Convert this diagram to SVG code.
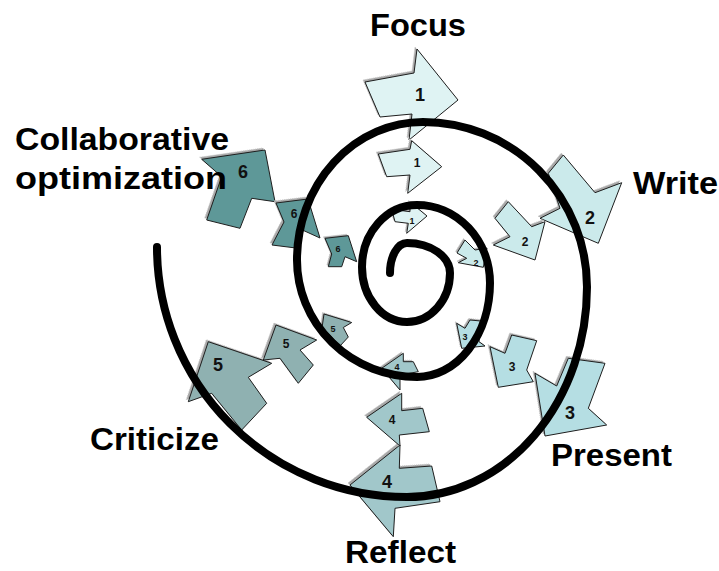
<svg xmlns="http://www.w3.org/2000/svg" width="719" height="571" viewBox="0 0 719 571">
<style>
.sh{fill:#a8a8a8;stroke:#c8c8c8;stroke-width:1;stroke-dasharray:1 1}
.ar{stroke:#1e1e1e;stroke-width:1;stroke-linejoin:miter}
.c1{fill:#dff3f3}.c2{fill:#cbeaeb}.c3{fill:#b5dee3}.c4{fill:#a1c7ca}.c5{fill:#8fb1b1}.c6{fill:#5e9898}
.n{font-family:"Liberation Sans",Arial,sans-serif;font-weight:bold;fill:#111;text-anchor:middle}
.L{font-size:18px}.M{font-size:12px}.S{font-size:9px}
.t{font-family:"Liberation Sans",Arial,sans-serif;font-weight:bold;font-size:31px;fill:#000}
.sp{fill:none;stroke:#000;stroke-width:8;stroke-linecap:round}
</style>
<g id="arrows">
<g id="a1L"><polygon class="sh" transform="translate(-2,-2)" points="458,100 417,49 414,73 365,82 380,117 412,114 409,140"/><polygon class="ar c1" points="458,100 417,49 414,73 365,82 380,117 412,114 409,140"/></g>
<g id="a1M"><polygon class="sh" transform="translate(-2,-2)" points="441.7,166.7 411.7,140.7 410,149.3 378.3,154 386.7,176.7 410,175 407.7,193.3"/><polygon class="ar c1" points="441.7,166.7 411.7,140.7 410,149.3 378.3,154 386.7,176.7 410,175 407.7,193.3"/></g>
<g id="a1S"><polygon class="sh" transform="translate(-1.5,-1.5)" points="427,216 410,202 410,211.7 391.7,209.3 395,221.7 408.3,223.3 406.7,233.3"/><polygon class="ar c1" points="427,216 410,202 410,211.7 391.7,209.3 395,221.7 408.3,223.3 406.7,233.3"/></g>
<g id="a2L"><polygon class="sh" transform="translate(-2,-2)" points="598.3,243.3 621.7,182.7 595,192.7 563.3,155 548.3,173.3 560,208.3 540,218.3"/><polygon class="ar c2" points="598.3,243.3 621.7,182.7 595,192.7 563.3,155 548.3,173.3 560,208.3 540,218.3"/></g>
<g id="a2M"><polygon class="sh" transform="translate(-2,-2)" points="535,260 545,221.7 531.7,226.7 508.3,201.7 495,218.3 510,236.7 493.3,245"/><polygon class="ar c2" points="535,260 545,221.7 531.7,226.7 508.3,201.7 495,218.3 510,236.7 493.3,245"/></g>
<g id="a2S"><polygon class="sh" transform="translate(-1.5,-1.5)" points="483.3,267.3 487,248 475,250 465,240 457,253 466.7,258.3 458.3,262.7"/><polygon class="ar c2" points="483.3,267.3 487,248 475,250 465,240 457,253 466.7,258.3 458.3,262.7"/></g>
<g id="a3L"><polygon class="sh" transform="translate(-2,-2)" points="535,373.3 556.7,386 568.3,358.3 605,363.3 588.3,408.3 606.7,425 545,436"/><polygon class="ar c3" points="535,373.3 556.7,386 568.3,358.3 605,363.3 588.3,408.3 606.7,425 545,436"/></g>
<g id="a3M"><polygon class="sh" transform="translate(-2,-2)" points="490,346.7 505,353.3 511.7,335 536.7,340.7 526.7,370 533.3,381.7 498.3,387.3"/><polygon class="ar c3" points="490,346.7 505,353.3 511.7,335 536.7,340.7 526.7,370 533.3,381.7 498.3,387.3"/></g>
<g id="a3S"><polygon class="sh" transform="translate(-1.5,-1.5)" points="456.7,323.3 465,328.3 470,320 481,321 479,341.7 485,346 461.7,348.3"/><polygon class="ar c3" points="456.7,323.3 465,328.3 470,320 481,321 479,341.7 485,346 461.7,348.3"/></g>
<g id="a4L"><polygon class="sh" transform="translate(-2,-2)" points="350,485 400,445 399.3,468.3 431.7,466 440,501.7 395,508.3 393.3,536.7"/><polygon class="ar c4" points="350,485 400,445 399.3,468.3 431.7,466 440,501.7 395,508.3 393.3,536.7"/></g>
<g id="a4M"><polygon class="sh" transform="translate(-2,-2)" points="366.7,417.3 401.7,393.3 401.7,410.7 422.7,408.3 429.3,431.7 399.3,435 400,446"/><polygon class="ar c4" points="366.7,417.3 401.7,393.3 401.7,410.7 422.7,408.3 429.3,431.7 399.3,435 400,446"/></g>
<g id="a4S"><polygon class="sh" transform="translate(-1.5,-1.5)" points="381.7,368.3 403.3,353.3 403.3,361.7 413.3,361.7 418.3,371.7 400,375 400,390"/><polygon class="ar c4" points="381.7,368.3 403.3,353.3 403.3,361.7 413.3,361.7 418.3,371.7 400,375 400,390"/></g>
<g id="a5L"><polygon class="sh" transform="translate(-2,-2)" points="188.3,401.7 208.3,341.7 271.7,363.3 248.3,377.3 266.7,403.3 241.7,430 211.7,393.3"/><polygon class="ar c5" points="188.3,401.7 208.3,341.7 271.7,363.3 248.3,377.3 266.7,403.3 241.7,430 211.7,393.3"/></g>
<g id="a5M"><polygon class="sh" transform="translate(-2,-2)" points="263.3,360 276,325 316.7,340 300,350 313.3,365 298.3,383.3 280,358.3"/><polygon class="ar c5" points="263.3,360 276,325 316.7,340 300,350 313.3,365 298.3,383.3 280,358.3"/></g>
<g id="a5S"><polygon class="sh" transform="translate(-1.5,-1.5)" points="321.7,330 324,314 351.7,322.5 343.3,327.5 348.3,337 340,346 328,333"/><polygon class="ar c5" points="321.7,330 324,314 351.7,322.5 343.3,327.5 348.3,337 340,346 328,333"/></g>
<g id="a6L"><polygon class="sh" transform="translate(-2,-2)" points="201.7,159.3 265,150 275,201.7 251.7,198.3 240,228.3 206.7,220 221.7,176.7"/><polygon class="ar c6" points="201.7,159.3 265,150 275,201.7 251.7,198.3 240,228.3 206.7,220 221.7,176.7"/></g>
<g id="a6M"><polygon class="sh" transform="translate(-2,-2)" points="276,203 308,199 320,238 298,228 296,248 272,245 284,222"/><polygon class="ar c6" points="276,203 308,199 320,238 298,228 296,248 272,245 284,222"/></g>
<g id="a6S"><polygon class="sh" transform="translate(-1.5,-1.5)" points="325,238.3 348.3,235.7 356.7,261.7 345,256.7 341.7,266.7 328.3,266.7 331.7,254"/><polygon class="ar c6" points="325,238.3 348.3,235.7 356.7,261.7 345,256.7 341.7,266.7 328.3,266.7 331.7,254"/></g>
</g>
<g id="connectors">
<path class="sp" d="M390,273 A17,30 0 0 1 407,243 A43,30 0 0 1 450,273 A43,49 0 0 1 407,322 A45,55 0 0 1 362,267 A55,62 0 0 1 417,205 A73,78 0 0 1 490,283 A73,94 0 0 1 417,377 A120,117 0 0 1 297,260 A126,138 0 0 1 423,122 A164,165 0 0 1 587,287 A180,210 0 0 1 407,497 A250,250 0 0 1 157,247"/>
</g>
<g id="numbers">
<text class="n L" x="420" y="101">1</text>
<text class="n M" x="417" y="167">1</text>
<text class="n S" x="412" y="224">1</text>
<text class="n L" x="590" y="224">2</text>
<text class="n M" x="525" y="246">2</text>
<text class="n S" x="476" y="266">2</text>
<text class="n L" x="570" y="419">3</text>
<text class="n M" x="512" y="371">3</text>
<text class="n S" x="465" y="340">3</text>
<text class="n L" x="387" y="488">4</text>
<text class="n M" x="392" y="424">4</text>
<text class="n S" x="397" y="370">4</text>
<text class="n L" x="218" y="371">5</text>
<text class="n M" x="286" y="348">5</text>
<text class="n S" x="333" y="332">5</text>
<text class="n L" x="243" y="178">6</text>
<text class="n M" x="294" y="218">6</text>
<text class="n S" x="338" y="252">6</text>
</g>
<g id="labels">
<text id="focus" class="t" x="370" y="36" textLength="96" lengthAdjust="spacingAndGlyphs">Focus</text>
<text id="write" class="t" x="633" y="194" textLength="85" lengthAdjust="spacingAndGlyphs">Write</text>
<text id="present" class="t" x="551" y="466" textLength="121" lengthAdjust="spacingAndGlyphs">Present</text>
<text id="reflect" class="t" x="345" y="563" textLength="111" lengthAdjust="spacingAndGlyphs">Reflect</text>
<text id="criticize" class="t" x="90" y="450" textLength="129" lengthAdjust="spacingAndGlyphs">Criticize</text>
<text id="collab1" class="t" x="15" y="150" textLength="214" lengthAdjust="spacingAndGlyphs">Collaborative</text>
<text id="collab2" class="t" x="15" y="189" textLength="212" lengthAdjust="spacingAndGlyphs">optimization</text>
</g>
</svg>
